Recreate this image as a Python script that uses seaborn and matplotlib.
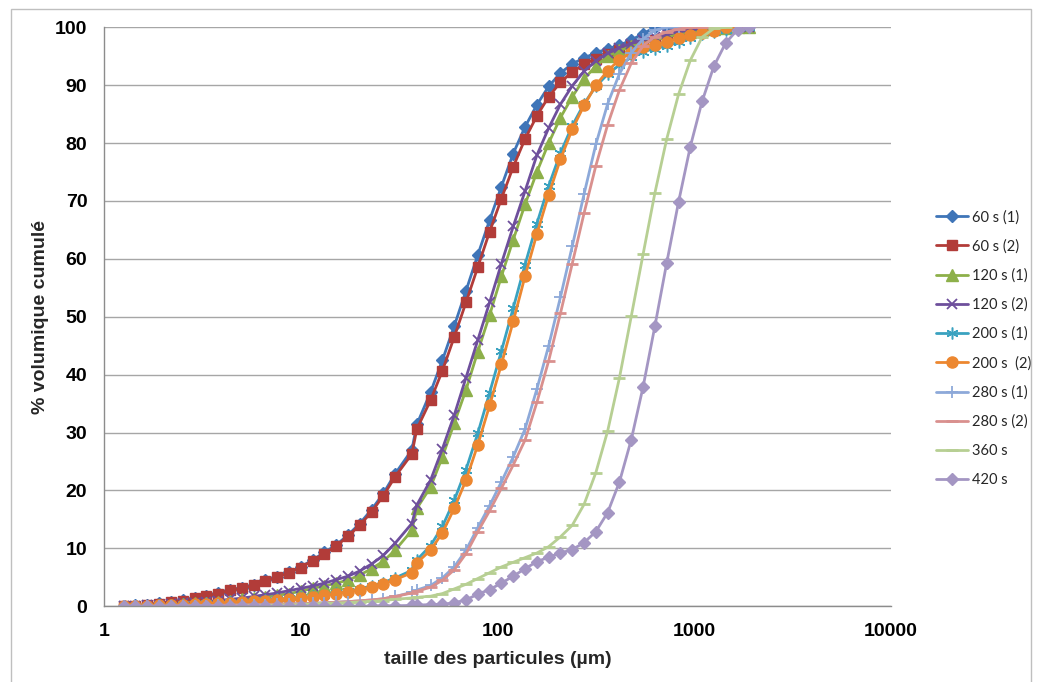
import matplotlib
matplotlib.use("Agg")
import matplotlib.pyplot as plt
import seaborn as sns
from matplotlib.patches import Rectangle
from matplotlib.ticker import FixedLocator, FixedFormatter, NullLocator

# tailles des classes (µm)
sizes = [1.259, 1.445, 1.660, 1.905, 2.188, 2.512, 2.884, 3.311, 3.802, 4.365,
         5.012, 5.754, 6.607, 7.586, 8.710, 10.00, 11.48, 13.18, 15.14, 17.38,
         19.95, 22.91, 26.30, 30.20, 36.70, 38.90, 45.71, 52.48, 60.26, 69.18,
         79.43, 91.20, 104.7, 120.2, 138.0, 158.5, 182.0, 208.9, 239.9, 275.4,
         316.2, 363.1, 416.9, 478.6, 549.5, 631.0, 724.4, 831.8, 955.0, 1096,
         1259, 1445, 1660, 1905]

# % volumique cumulé, une liste par essai
v60_1 = [0, 0.15, 0.3, 0.5, 0.8, 1.1, 1.45, 1.85, 2.3, 2.85,
         3.2, 3.7, 4.5, 5.1, 5.9, 6.8, 8.0, 9.3, 10.6, 12.3,
         14.3, 16.7, 19.5, 22.9, 27.0, 31.4, 37.0, 42.5, 48.4, 54.5,
         60.7, 66.7, 72.5, 78.2, 82.8, 86.6, 89.8, 92.1, 93.7, 94.7,
         95.6, 96.3, 96.9, 97.8, 98.9, 100, 100, 100, 100]
v60_2 = [0, 0.1, 0.25, 0.45, 0.7, 1.0, 1.35, 1.75, 2.2, 2.8,
         3.1, 3.6, 4.4, 5.0, 5.8, 6.7, 7.9, 9.1, 10.4, 12.1,
         14.0, 16.3, 19.1, 22.4, 26.3, 30.6, 35.6, 40.7, 46.5, 52.5,
         58.6, 64.7, 70.4, 75.9, 80.7, 84.7, 88.0, 90.5, 92.3, 93.6,
         94.6, 95.4, 96.1, 96.7, 97.3, 97.8, 98.3, 98.8, 99.3, 99.8,
         100]
v120_1 = [0, 0.05, 0.1, 0.2, 0.3, 0.4, 0.5, 0.65, 0.8, 1.0,
          1.2, 1.4, 1.6, 1.9, 2.2, 2.6, 3.1, 3.5, 4.0, 4.5,
          5.4, 6.5, 7.8, 9.7, 13.1, 16.9, 20.6, 25.8, 31.6, 37.4,
          44.0, 50.3, 57.0, 63.3, 69.4, 75.0, 80.0, 84.4, 88.0, 91.1,
          93.3, 95.0, 96.0, 96.7, 97.3, 97.8, 98.3, 98.8, 99.2, 99.5,
          99.7, 99.9, 100, 100]
v120_2 = [0, 0.05, 0.15, 0.25, 0.35, 0.5, 0.65, 0.8, 1.0, 1.2,
          1.4, 1.7, 2.0, 2.3, 2.7, 3.1, 3.5, 4.0, 4.6, 5.2,
          6.1, 7.3, 8.8, 10.9, 14.3, 17.5, 21.8, 27.2, 33.0, 39.5,
          46.0, 52.5, 59.2, 65.6, 71.7, 77.9, 82.6, 86.7, 89.9, 92.4,
          94.2, 95.5, 96.5, 97.2, 97.8, 98.3, 98.8, 99.2, 99.5, 99.8,
          100, 100, 100, 100]
v200_1 = [0, 0.05, 0.1, 0.15, 0.25, 0.35, 0.4, 0.5, 0.6, 0.7,
          0.8, 0.95, 1.1, 1.25, 1.4, 1.55, 1.7, 2.0, 2.3, 2.6,
          3.0, 3.5, 4.1, 4.9, 6.2, 8.0, 10.5, 13.8, 18.3, 23.6,
          29.9, 36.9, 44.1, 51.5, 59.0, 66.1, 72.6, 78.3, 83.0, 86.8,
          89.8, 91.9, 93.5, 94.8, 95.8, 96.3, 96.8, 97.4, 98.2, 98.8,
          99.2, 99.5, 99.8, 100]
v200_2 = [0, 0.05, 0.1, 0.15, 0.2, 0.3, 0.35, 0.45, 0.55, 0.65,
          0.75, 0.9, 1.0, 1.15, 1.3, 1.45, 1.6, 1.9, 2.2, 2.5,
          2.8, 3.3, 3.9, 4.6, 5.8, 7.5, 9.7, 12.7, 16.9, 21.8,
          27.9, 34.7, 41.8, 49.2, 57.0, 64.3, 71.1, 77.2, 82.4, 86.5,
          90.0, 92.5, 94.4, 95.6, 96.6, 97.0, 97.5, 98.1, 98.6, 99.0,
          99.4, 100, 100]
v280_1 = [0, 0, 0, 0, 0.05, 0.05, 0.1, 0.1, 0.15, 0.2,
          0.2, 0.25, 0.3, 0.35, 0.4, 0.45, 0.5, 0.6, 0.7, 0.8,
          0.95, 1.1, 1.3, 1.7, 2.4, 2.8, 3.6, 4.9, 6.8, 9.7,
          13.6, 17.4, 21.5, 25.8, 30.6, 37.5, 45.0, 53.4, 62.2, 71.2,
          79.8, 86.8, 92.0, 95.6, 98.0, 99.5, 100, 100]
v280_2 = [0, 0, 0, 0, 0.05, 0.05, 0.1, 0.1, 0.15, 0.2,
          0.2, 0.25, 0.3, 0.35, 0.4, 0.45, 0.5, 0.6, 0.7, 0.8,
          0.95, 1.1, 1.3, 1.7, 2.3, 2.6, 3.3, 4.5, 6.3, 9.1,
          12.9, 16.5, 20.4, 24.4, 28.7, 35.2, 42.4, 50.6, 59.2, 67.9,
          76.1, 83.2, 89.2, 93.8, 96.8, 98.4, 99.2, 99.7, 100, 100,
          100]
v360 = [0, 0, 0, 0, 0, 0, 0, 0, 0, 0,
        0.05, 0.1, 0.15, 0.2, 0.25, 0.3, 0.4, 0.5, 0.55, 0.65,
        0.75, 0.85, 1.0, 1.2, 1.45, 1.55, 1.75, 2.2, 3.0, 3.8,
        4.8, 5.8, 6.8, 7.6, 8.4, 9.2, 10.3, 12.0, 14.0, 17.6,
        23.1, 30.3, 39.5, 50.1, 60.8, 71.4, 80.7, 88.4, 94.3, 98.3,
        99.8, 100]
v420 = [0, 0, 0, 0, 0, 0, 0, 0, 0, 0,
        0, 0, 0, 0, 0, 0, 0, 0, 0, 0,
        0, 0.05, 0.1, 0.1, 0.15, 0.2, 0.3, 0.35, 0.6, 1.1,
        2.1, 2.9, 4.0, 5.2, 6.5, 7.7, 8.5, 9.2, 9.8, 11.0,
        12.9, 16.2, 21.5, 28.8, 37.9, 48.4, 59.3, 69.8, 79.4, 87.2,
        93.3, 97.3, 99.6, 100]

labels = ["60 s (1)", "60 s (2)", "120 s (1)", "120 s (2)", "200 s (1)",
          "200 s  (2)", "280 s (1)", "280 s (2)", "360 s", "420 s"]

sns.set_theme(style="white")
plt.rcParams['font.family'] = ['Liberation Sans', 'DejaVu Sans']

fig = plt.figure(figsize=(10.37, 6.82), dpi=100)
ax = fig.add_axes([104 / 1037, 1 - 606.3 / 682, (891 - 104) / 1037, (606.3 - 27.3) / 682])

# valeurs, couleur, marqueur, taille, epaisseur du trait du marqueur
styles = [
    (v60_1, "#3F75B8", "D", 6.5, 1),
    (v60_2, "#B23C39", "s", 7.5, 1),
    (v120_1, "#8DB04A", "^", 8, 1),
    (v120_2, "#6E4F9C", "x", 7, 1.3),
    (v200_1, "#3AA2C0", (6, 2, 0), 8.5, 1.1),
    (v200_2, "#EC8730", "o", 8, 1),
    (v280_1, "#8DA9D9", "+", 8.5, 1.3),
    (v280_2, "#D9908E", "_", 8, 2),
    (v360, "#B7CF93", "_", 8, 2),
    (v420, "#A496C3", "D", 6.5, 1),
]

for lab, (vals, col, mk, ms, mew) in zip(labels, styles):
    sns.lineplot(x=sizes[:len(vals)], y=vals, ax=ax, color=col, linewidth=2.0,
                 marker=mk, markersize=ms, markeredgewidth=mew,
                 markeredgecolor=col, markerfacecolor=col, label=lab,
                 sort=False, estimator=None)

ax.set_xscale('log')
ax.set_xlim(1, 10000)
ax.set_ylim(0, 100)
ax.xaxis.set_major_locator(FixedLocator([1, 10, 100, 1000, 10000]))
ax.xaxis.set_major_formatter(FixedFormatter(["1", "10", "100", "1000", "10000"]))
ax.xaxis.set_minor_locator(NullLocator())
ax.set_yticks(range(0, 101, 10))

ax.yaxis.grid(True, color="#A6A6A6", linewidth=1.0)
ax.xaxis.grid(False)
for side in ["top", "right"]:
    ax.spines[side].set_visible(False)
for side in ["left", "bottom"]:
    ax.spines[side].set_color("#8C8C8C")
    ax.spines[side].set_linewidth(1.0)
ax.tick_params(axis='both', length=0, labelsize=14, colors="black")
ax.tick_params(axis='y', pad=12)
ax.tick_params(axis='x', pad=12)
for t in ax.get_xticklabels() + ax.get_yticklabels():
    t.set_fontweight('bold')

ax.set_xlabel("taille des particules (µm)", fontsize=14, fontweight='bold', labelpad=8)
ax.set_ylabel("% volumique cumulé", fontsize=14, fontweight='bold', labelpad=4)

ax.legend(loc='upper left', bbox_to_anchor=(936 / 1037, 1 - 210 / 682),
          bbox_transform=fig.transFigure, frameon=False,
          prop={'family': 'Lato', 'size': 10.5}, handlelength=2.2,
          handletextpad=0.3, labelspacing=1.02, borderpad=0, borderaxespad=0)

# cadre de la zone de graphique
fig.patches.append(Rectangle((11 / 1037, -0.05), (1031 - 11) / 1037, 0.05 + 1 - 9.3 / 682,
                             transform=fig.transFigure, fill=False,
                             edgecolor="#BFBFBF", linewidth=1.0))

fig.savefig("out.png", dpi=100)
